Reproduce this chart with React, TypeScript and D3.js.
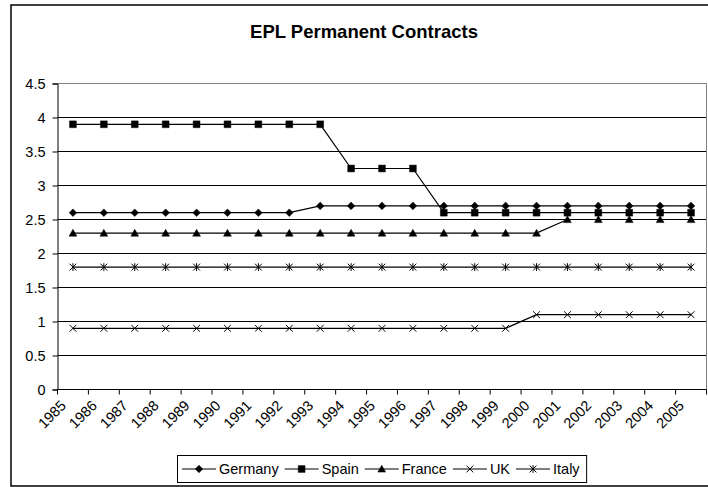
import React, { useEffect, useRef } from "react";
import * as d3 from "d3";

const years = [
  "1985", "1986", "1987", "1988", "1989", "1990", "1991", "1992", "1993", "1994", "1995",
  "1996", "1997", "1998", "1999", "2000", "2001", "2002", "2003", "2004", "2005",
];
const germany = [2.6, 2.6, 2.6, 2.6, 2.6, 2.6, 2.6, 2.6, 2.7, 2.7, 2.7, 2.7, 2.7, 2.7, 2.7, 2.7, 2.7, 2.7, 2.7, 2.7, 2.7];
const spain = [3.9, 3.9, 3.9, 3.9, 3.9, 3.9, 3.9, 3.9, 3.9, 3.25, 3.25, 3.25, 2.6, 2.6, 2.6, 2.6, 2.6, 2.6, 2.6, 2.6, 2.6];
const france = [2.3, 2.3, 2.3, 2.3, 2.3, 2.3, 2.3, 2.3, 2.3, 2.3, 2.3, 2.3, 2.3, 2.3, 2.3, 2.3, 2.5, 2.5, 2.5, 2.5, 2.5];
const uk = [0.9, 0.9, 0.9, 0.9, 0.9, 0.9, 0.9, 0.9, 0.9, 0.9, 0.9, 0.9, 0.9, 0.9, 0.9, 1.1, 1.1, 1.1, 1.1, 1.1, 1.1];
const italy = [1.8, 1.8, 1.8, 1.8, 1.8, 1.8, 1.8, 1.8, 1.8, 1.8, 1.8, 1.8, 1.8, 1.8, 1.8, 1.8, 1.8, 1.8, 1.8, 1.8, 1.8];
const yTicks = [0, 0.5, 1, 1.5, 2, 2.5, 3, 3.5, 4, 4.5];

const seriesList = [
  { name: "Germany", values: germany, marker: "diamond" },
  { name: "Spain", values: spain, marker: "square" },
  { name: "France", values: france, marker: "triangle" },
  { name: "UK", values: uk, marker: "x" },
  { name: "Italy", values: italy, marker: "star" },
];

const FONT = "Arial, 'Liberation Sans', sans-serif";
const LABEL_SIZE = 14.5;

// marker path centred on 0,0
const markerPath = (type: string) => {
  switch (type) {
    case "diamond":
      return "M0,-3.8 L3.8,0 L0,3.8 L-3.8,0 Z";
    case "square":
      return "M-3.4,-3.4 H3.4 V3.4 H-3.4 Z";
    case "triangle":
      return "M0,-3.8 L3.9,3.1 L-3.9,3.1 Z";
    case "x":
      return "M-3.4,-3.4 L3.4,3.4 M3.4,-3.4 L-3.4,3.4";
    default:
      return "M-3.4,-3.4 L3.4,3.4 M3.4,-3.4 L-3.4,3.4 M0,-3.9 V3.9";
  }
};
const isFilled = (type: string) => type === "diamond" || type === "square" || type === "triangle";

const App = () => {
  const svgRef = useRef<SVGSVGElement>(null);

  useEffect(() => {
    const svg = d3.select(svgRef.current);
    svg.selectAll("*").remove();

    const left = 57.5;
    const right = 706.5;
    const top = 83.5;
    const bottom = 389.5;

    const x = d3.scaleBand().domain(years).range([left, right]);
    const y = d3.scaleLinear().domain([0, 4.5]).range([bottom, top]);
    const cx = (d: string) => (x(d) as number) + x.bandwidth() / 2;

    // outer chart border
    svg
      .append("rect")
      .attr("x", 11)
      .attr("y", 5)
      .attr("width", 730)
      .attr("height", 481)
      .attr("fill", "#fff")
      .attr("stroke", "#000")
      .attr("stroke-width", 1.5);

    // title
    svg
      .append("text")
      .attr("x", 364)
      .attr("y", 38)
      .attr("text-anchor", "middle")
      .attr("font-family", FONT)
      .attr("font-size", 18.5)
      .attr("font-weight", "bold")
      .text("EPL Permanent Contracts");

    // gridlines
    svg
      .append("g")
      .selectAll("line")
      .data(yTicks.filter((d) => d > 0))
      .join("line")
      .attr("x1", left)
      .attr("x2", right)
      .attr("y1", (d) => y(d))
      .attr("y2", (d) => y(d))
      .attr("stroke", (d) => (d === 4.5 ? "#808080" : "#000"))
      .attr("stroke-width", 1);

    // right border of plot area
    svg
      .append("line")
      .attr("x1", right)
      .attr("x2", right)
      .attr("y1", top)
      .attr("y2", bottom)
      .attr("stroke", "#808080");

    // y axis
    const yAxis = svg
      .append("g")
      .attr("transform", `translate(${left},0)`)
      .call(
        d3
          .axisLeft(y)
          .tickValues(yTicks)
          .tickSize(5)
          .tickPadding(7)
          .tickFormat((d) => String(d))
      );
    yAxis.select(".domain").attr("stroke", "#000");
    yAxis.selectAll("text").attr("font-family", FONT).attr("font-size", LABEL_SIZE).attr("fill", "#000");

    // x axis
    svg
      .append("line")
      .attr("x1", left)
      .attr("x2", right)
      .attr("y1", bottom)
      .attr("y2", bottom)
      .attr("stroke", "#000");
    const bounds = years.map((d) => x(d) as number).concat([right]);
    svg
      .append("g")
      .selectAll("line")
      .data(bounds)
      .join("line")
      .attr("x1", (d) => d)
      .attr("x2", (d) => d)
      .attr("y1", bottom)
      .attr("y2", bottom + 5)
      .attr("stroke", "#000");
    svg
      .append("g")
      .selectAll("text")
      .data(years)
      .join("text")
      .attr("transform", (d) => `translate(${cx(d) - 6},${bottom + 17}) rotate(-45)`)
      .attr("text-anchor", "end")
      .attr("font-family", FONT)
      .attr("font-size", LABEL_SIZE)
      .text((d) => d);

    // series
    const line = d3
      .line<number>()
      .x((_, i) => cx(years[i]))
      .y((d) => y(d));

    seriesList.forEach((s) => {
      svg
        .append("path")
        .attr("d", line(s.values))
        .attr("fill", "none")
        .attr("stroke", "#000")
        .attr("stroke-width", 1.2);
      svg
        .append("g")
        .selectAll("path")
        .data(s.values)
        .join("path")
        .attr("transform", (d, i) => `translate(${cx(years[i])},${y(d)})`)
        .attr("d", markerPath(s.marker))
        .attr("fill", isFilled(s.marker) ? "#000" : "none")
        .attr("stroke", "#000")
        .attr("stroke-width", isFilled(s.marker) ? 0.5 : 1);
    });

    // legend
    const legend = svg.append("g");
    const box = legend
      .append("rect")
      .attr("x", 177.5)
      .attr("y", 455.5)
      .attr("height", 27)
      .attr("fill", "#fff")
      .attr("stroke", "#000");
    let lx = 182;
    const ly = 469;
    seriesList.forEach((s) => {
      legend
        .append("line")
        .attr("x1", lx)
        .attr("x2", lx + 34)
        .attr("y1", ly)
        .attr("y2", ly)
        .attr("stroke", "#000")
        .attr("stroke-width", 1.2);
      legend
        .append("path")
        .attr("transform", `translate(${lx + 17},${ly})`)
        .attr("d", markerPath(s.marker))
        .attr("fill", isFilled(s.marker) ? "#000" : "none")
        .attr("stroke", "#000")
        .attr("stroke-width", isFilled(s.marker) ? 0.5 : 1);
      const t = legend
        .append("text")
        .attr("x", lx + 37)
        .attr("y", ly)
        .attr("dy", "0.35em")
        .attr("font-family", FONT)
        .attr("font-size", LABEL_SIZE)
        .text(s.name);
      const w = (t.node() as SVGTextElement).getComputedTextLength();
      lx += 37 + w + 6;
    });
    box.attr("width", lx + 1 - 177.5);
  }, []);

  return (
    <svg
      ref={svgRef}
      width={708}
      height={487}
      style={{ position: "absolute", left: 0, top: 0, background: "#fff" }}
    />
  );
};

export default App;
